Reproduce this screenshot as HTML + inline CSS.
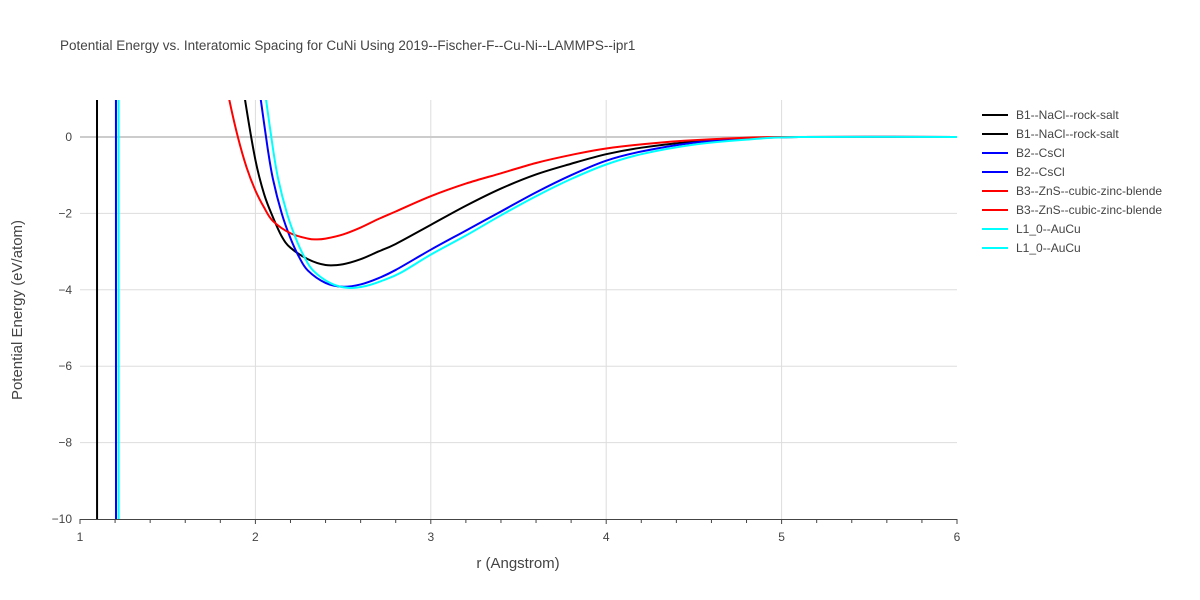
<!DOCTYPE html>
<html><head><meta charset="utf-8"><style>
html,body{margin:0;padding:0;background:#fff;font-family:"Liberation Sans",sans-serif;overflow:hidden}
svg{display:block}
svg text{font-family:"Liberation Sans",sans-serif;fill:#444}
</style></head><body>
<svg id="chart" width="1200" height="600" xmlns="http://www.w3.org/2000/svg">
<rect width="1200" height="600" fill="#fff"/>
<text x="60" y="50" font-size="13.5">Potential Energy vs. Interatomic Spacing for CuNi Using 2019--Fischer-F--Cu-Ni--LAMMPS--ipr1</text>
<defs><clipPath id="pc"><rect x="80" y="100" width="877" height="419"/></clipPath></defs>
<g id="grid"></g>
<g id="series" clip-path="url(#pc)"></g>
<g id="ticks"></g>
<text x="518" y="568" font-size="15" text-anchor="middle">r (Angstrom)</text>
<text x="22" y="310" font-size="15" text-anchor="middle" transform="rotate(-90 22 310)">Potential Energy (eV/atom)</text>
<g id="legend"></g>
</svg>
<script>
const xTicks=[1,2,3,4,5,6];
const yTicks=[0,-2,-4,-6,-8,-10];
const yTickLabels=["0","−2","−4","−6","−8","−10"];
const seriesNames=["B1--NaCl--rock-salt","B1--NaCl--rock-salt","B2--CsCl","B2--CsCl","B3--ZnS--cubic-zinc-blende","B3--ZnS--cubic-zinc-blende","L1_0--AuCu","L1_0--AuCu"];
const seriesColors=["#000000","#000000","#0000ff","#0000ff","#ff0000","#ff0000","#00ffff","#00ffff"];
const b1R=[1.9,1.94,2.0,2.05,2.1,2.15,2.2,2.3,2.4,2.5,2.6,2.7,2.8,3.0,3.2,3.4,3.6,3.8,4.0,4.2,4.5,4.8,5.1,6];
const b1E=[2.3,1.0,-0.6,-1.5,-2.1,-2.6,-2.9,-3.2,-3.35,-3.33,-3.2,-3.0,-2.8,-2.3,-1.8,-1.35,-0.98,-0.7,-0.45,-0.28,-0.12,-0.04,0,0];
const b1SpikeR=[1.096,1.097,1.098];
const b1SpikeE=[30,0,-30];
const b2R=[2.0,2.03,2.07,2.1,2.15,2.2,2.25,2.3,2.4,2.5,2.6,2.7,2.8,3.0,3.2,3.4,3.6,3.8,4.0,4.2,4.5,4.8,5.1,6];
const b2E=[2.0,1.0,-0.3,-1.1,-2.0,-2.65,-3.15,-3.5,-3.82,-3.92,-3.86,-3.7,-3.48,-2.95,-2.45,-1.95,-1.45,-1.0,-0.62,-0.38,-0.15,-0.05,0,0];
const b2SpikeR=[1.204,1.205,1.206];
const b2SpikeE=[30,0,-30];
const b3R=[1.8,1.85,1.9,1.95,2.0,2.05,2.1,2.2,2.3,2.35,2.4,2.5,2.6,2.7,2.8,3.0,3.2,3.4,3.6,3.8,4.0,4.3,4.6,5.0,6];
const b3E=[2.2,1.0,0.0,-0.8,-1.4,-1.85,-2.2,-2.52,-2.66,-2.68,-2.66,-2.55,-2.37,-2.15,-1.95,-1.55,-1.22,-0.95,-0.68,-0.47,-0.3,-0.15,-0.06,0,0];
const l10R=[2.03,2.06,2.1,2.13,2.18,2.23,2.28,2.33,2.43,2.53,2.63,2.73,2.83,3.0,3.2,3.4,3.6,3.8,4.0,4.2,4.5,4.8,5.1,6];
const l10E=[2.0,1.0,-0.3,-1.1,-2.0,-2.65,-3.15,-3.5,-3.83,-3.95,-3.9,-3.75,-3.55,-3.08,-2.58,-2.05,-1.55,-1.1,-0.72,-0.45,-0.2,-0.07,0,0];
const l10SpikeR=[1.219,1.22,1.221];
const l10SpikeE=[30,0,-30];

const NS="http://www.w3.org/2000/svg";
const X0=80,X1=957,Y0=137,Y1=519;
function xs(r){return X0+(r-1)*(X1-X0)/5;}
function ys(e){return Y0+(-e)*(Y1-Y0)/10;}
function mk(t,a,p){const e=document.createElementNS(NS,t);for(const k in a)e.setAttribute(k,a[k]);(p||document.getElementById('chart')).appendChild(e);return e;}
const grid=document.getElementById('grid'),ticks=document.getElementById('ticks');
xTicks.forEach(t=>{
  if(t>1&&t<6){const l=mk('line',{x1:xs(t),x2:xs(t),y1:100,y2:519,stroke:'#ddd','stroke-width':1},grid);
  
  }
  const tx=mk('text',{x:xs(t),y:541,'font-size':12,'text-anchor':'middle'},ticks);tx.textContent=t;
  
  
});
yTicks.forEach((t,i)=>{
  if(t>-10){const l=mk('line',{x1:80,x2:957,y1:ys(t),y2:ys(t),stroke:t===0?'#ccc':'#ddd','stroke-width':t===0?2:1},grid);
  
  }
  const tx=mk('text',{x:72,y:ys(t)+4,'font-size':12,'text-anchor':'end'},ticks);tx.textContent=yTickLabels[i];
  
  
});
const xl=mk('line',{x1:80,x2:957,y1:519.5,y2:519.5,stroke:'#444','stroke-width':1},ticks);


for(let t=1;t<=6.001;t+=0.2){const tk=mk('line',{x1:xs(t),x2:xs(t),y1:519,y2:Math.abs(t-Math.round(t))<0.01?524:523,stroke:'#444'},ticks);

}
function pathD(R,E){
  const p=R.map((r,i)=>[xs(r),ys(E[i])]);
  let d='M'+p[0][0]+','+p[0][1];
  for(let i=0;i<p.length-1;i++){
    const a=p[Math.max(i-1,0)],b=p[i],c=p[i+1],e=p[Math.min(i+2,p.length-1)];
    d+=' C'+(b[0]+(c[0]-a[0])/6)+','+(b[1]+(c[1]-a[1])/6)+' '+(c[0]-(e[0]-b[0])/6)+','+(c[1]-(e[1]-b[1])/6)+' '+c[0]+','+c[1];
  }
  return d;
}
const ser=document.getElementById('series');
const traces=[[b1SpikeR,b1SpikeE,0],[b1R,b1E,1],[b2SpikeR,b2SpikeE,2],[b2R,b2E,3],[b3R,b3E,4],[l10SpikeR,l10SpikeE,6],[l10R,l10E,7]];
traces.forEach(t=>{
  const p=mk('path',{d:pathD(t[0],t[1]),fill:'none',stroke:seriesColors[t[2]],'stroke-width':2},ser);
  
  
});
const leg=document.getElementById('legend');
seriesNames.forEach((n,i)=>{
  const y=115+i*19;
  const g=mk('g',{},leg);
  
  
  mk('line',{x1:982,x2:1008,y1:y,y2:y,stroke:seriesColors[i],'stroke-width':2},g);
  const tx=mk('text',{x:1016,y:y+4,'font-size':12},g);tx.textContent=n;
});
</script>
</body></html>
